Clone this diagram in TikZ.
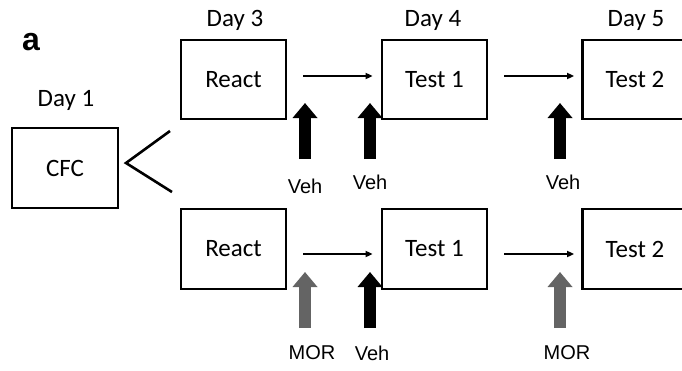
\documentclass[tikz,border=0pt]{standalone}
\usepackage{fontspec}
\setmainfont{Carlito}
\newfontfamily\arialf{Liberation Sans}
\usetikzlibrary{arrows.meta}
\definecolor{mgray}{RGB}{100,100,100}
\begin{document}
\begin{tikzpicture}[x=1pt,y=-1pt,
  box/.style={draw,line width=2.8pt,inner sep=0pt,minimum width=105pt,minimum height=79pt,font=\fontsize{25}{28}\selectfont},
  daylbl/.style={font=\fontsize{25}{28}\selectfont,inner sep=0pt},
  druglbl/.style={font=\arialf\fontsize{20}{23}\selectfont,inner sep=0pt},
  harrow/.style={line width=1.8pt,-{Triangle[length=7pt,width=6pt]}},
  bigarrow/.style={line width=12pt,-{Triangle[length=15pt,width=24pt]}},
  branch/.style={line width=2.6pt}]
\clip (0,0) rectangle (682,370);
\useasboundingbox (0,0) rectangle (682,370);
\node[font=\arialf\bfseries\fontsize{32}{36}\selectfont,inner sep=0pt,anchor=base] (a) at (31,50) {a};
% Day labels
\node[daylbl] (d1) at (66,100) {Day 1};
\node[daylbl] (d3) at (235,20) {Day 3};
\node[daylbl] (d4) at (433,20) {Day 4};
\node[daylbl] (d5) at (636,20) {Day 5};
% boxes
\node[box,minimum width=106pt,minimum height=80pt] (cfc) at (65,168) {CFC};
\node[box] (r1) at (233.5,79.5) {React};
\node[box] (t1) at (434.5,79.5) {Test 1};
\node[box] (u1) at (635,79.5) {Test 2};
\node[box,minimum height=80pt] (r2) at (233.5,249) {React};
\node[box,minimum height=80pt] (t2) at (434.5,249) {Test 1};
\node[box,minimum height=80pt] (u2) at (635,249) {Test 2};
% branch
\coordinate (v) at (126,163);
\coordinate (bu) at (170,131);
\coordinate (bl) at (172,192);
\draw[branch] (bu) -- (v) -- (bl);
% horizontal arrows
\draw[harrow] ([xshift=16pt,yshift=3.5pt]r1.east) -- ([xshift=-8pt,yshift=3.5pt]t1.west);
\draw[harrow] ([xshift=16pt,yshift=3.5pt]t1.east) -- ([xshift=-7pt,yshift=3.5pt]u1.west);
\draw[harrow] ([xshift=16pt,yshift=-5pt]r2.east) -- ([xshift=-8pt,yshift=-5pt]t2.west);
\draw[harrow] ([xshift=16pt,yshift=-5pt]t2.east) -- ([xshift=-7pt,yshift=-5pt]u2.west);
% drug labels
\node[druglbl] (vh1) at (305,186) {Veh};
\node[druglbl] (vh2) at (370,182) {Veh};
\node[druglbl] (vh3) at (563,182) {Veh};
\node[druglbl] (m1) at (312,353) {MOR};
\node[druglbl] (vh4) at (372,353) {Veh};
\node[druglbl] (m2) at (567,353) {MOR};
% block arrows
\coordinate (a1s) at (305,159); \coordinate (a1e) at (305,103);
\coordinate (a2s) at (370,159); \coordinate (a2e) at (370,103);
\coordinate (a3s) at (560,159); \coordinate (a3e) at (560,103);
\coordinate (b1s) at (305,328); \coordinate (b1e) at (305,272);
\coordinate (b2s) at (370,328); \coordinate (b2e) at (370,272);
\coordinate (b3s) at (560,328); \coordinate (b3e) at (560,272);
\draw[bigarrow] (a1s) -- (a1e);
\draw[bigarrow] (a2s) -- (a2e);
\draw[bigarrow] (a3s) -- (a3e);
\draw[bigarrow,mgray] (b1s) -- (b1e);
\draw[bigarrow] (b2s) -- (b2e);
\draw[bigarrow,mgray] (b3s) -- (b3e);
\end{tikzpicture}
\end{document}
